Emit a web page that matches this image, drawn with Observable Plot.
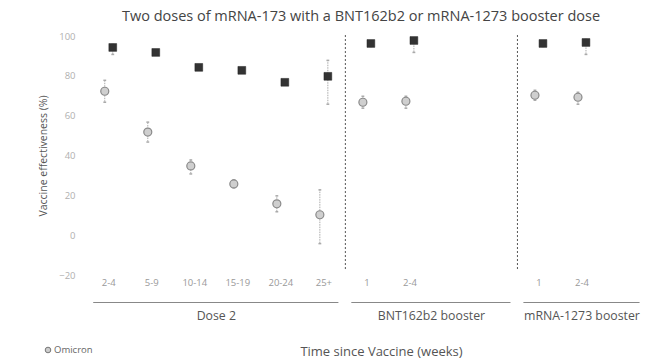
<!DOCTYPE html>
<html><head><meta charset="utf-8">
<script src="https://cdn.jsdelivr.net/npm/d3@7"></script>
<script src="https://cdn.jsdelivr.net/npm/@observablehq/plot@0.6"></script>
<style>
body{margin:0;background:#fff;font-family:"Open Sans",Lato,sans-serif;}
#wrap{position:relative;width:663px;height:364px;overflow:hidden;}
#title{height:26px;line-height:32px;font-size:14.5px;color:#444;text-align:center;padding-left:59px;white-space:nowrap;}
#legend{position:absolute;left:44px;top:343px;font-size:9.5px;color:#666;display:flex;align-items:center;gap:2px;}
</style></head>
<body><div id="wrap"><div id="title">Two doses of mRNA-173 with a BNT162b2 or mRNA-1273 booster dose</div><div id="chart"></div>
<div id="legend"><svg width="8" height="8"><circle cx="4" cy="4" r="2.8" fill="#ccc" stroke="#777"/></svg><span>Omicron</span></div></div>
<script>
// ---- data ----
const groups = ["Dose 2", "BNT162b2 booster", "mRNA-1273 booster"];
const weeks = ["2-4","5-9","10-14","15-19","20-24","25+","1","2-4","1","2-4"];
const weekGroup = ["Dose 2","Dose 2","Dose 2","Dose 2","Dose 2","Dose 2","BNT162b2 booster","BNT162b2 booster","mRNA-1273 booster","mRNA-1273 booster"];
const omicronVE   = [72.5, 52, 35, 26, 16, 10.5, 67, 67.5, 70.5, 69.5];
const omicronLow  = [67, 47, 31, 24, 12, -4, 64, 64, 68, 66];
const omicronHigh = [78, 57, 38, 28, 20, 23, 70, 70, 73, 72];
const squareVE    = [94.5, 92, 84.5, 83, 77, 80, 96.5, 98, 96.5, 97];
const squareLow   = [91, 91, 84, 82.5, 76.5, 66, 95, 92, 95, 91];
const squareHigh  = [96, 93, 85, 84, 77.5, 88, 97.5, 99, 97.5, 98.5];
const yTicks = [-20, 0, 20, 40, 60, 80, 100];

// ---- layout (slots per panel) ----
const groupSlots = {"Dose 2": 6, "BNT162b2 booster": 4, "mRNA-1273 booster": 3};
const groupStart = {}; let acc = 0;
groups.forEach(g => { groupStart[g] = acc; acc += groupSlots[g]; });
const rows = weeks.map((w, i) => {
  const g = weekGroup[i];
  const k = weekGroup.slice(0, i).filter(x => x === g).length;
  return {week: w, group: g, pos: groupStart[g] + k,
    om: omicronVE[i], omLo: omicronLow[i], omHi: omicronHigh[i],
    sq: squareVE[i], sqLo: squareLow[i], sqHi: squareHigh[i]};
});
const panels = groups.map(g => ({name: g, a: groupStart[g] - 0.5, b: groupStart[g] + groupSlots[g] - 0.5}));
const dividers = panels.slice(0, -1).map(p => p.b);
const cap = {draw(ctx, size){const w = Math.sqrt(size) / 2; ctx.moveTo(-w, 0); ctx.lineTo(w, 0);}};

const font = "'Open Sans', Lato, sans-serif";
const chart = Plot.plot({
  width: 663, height: 338,
  marginTop: 10, marginBottom: 89, marginLeft: 76, marginRight: 17,
  x: {domain: [-0.75, acc - 0.5], axis: null},
  y: {domain: [-20, 100], axis: null},
  style: {fontFamily: font, overflow: "visible", background: "#fff"},
  marks: [
    Plot.axisY({ticks: yTicks, tickSize: 0, tickPadding: 1, fontSize: 9.5, fill: "#b0b0b0", label: null}),
    Plot.text(["Vaccine effectiveness (%)"], {frameAnchor: "left", textAnchor: "middle", dx: -33, rotate: -90, fontSize: 10.5, fill: "#555"}),
    Plot.ruleX(dividers, {x: d => d, y1: -17, y2: 101, stroke: "#555", strokeDasharray: "2,2"}),
    // error bars
    Plot.ruleX(rows, {x: "pos", y1: "omLo", y2: "omHi", dx: -4, stroke: "#aaa", strokeDasharray: "1.5,1"}),
    Plot.ruleX(rows, {x: "pos", y1: "sqLo", y2: "sqHi", dx: 4, stroke: "#aaa", strokeDasharray: "1.5,1"}),
    Plot.dot(rows, {x: "pos", y: "omLo", dx: -4, symbol: cap, r: 1.6, stroke: "#aaa"}),
    Plot.dot(rows, {x: "pos", y: "omHi", dx: -4, symbol: cap, r: 1.6, stroke: "#aaa"}),
    Plot.dot(rows, {x: "pos", y: "sqLo", dx: 4, symbol: cap, r: 1.6, stroke: "#aaa"}),
    Plot.dot(rows, {x: "pos", y: "sqHi", dx: 4, symbol: cap, r: 1.6, stroke: "#aaa"}),
    // points
    Plot.dot(rows, {x: "pos", y: "sq", dx: 4, symbol: "square", r: 4.4, fill: "#333", stroke: "#222", strokeWidth: 0.5}),
    Plot.dot(rows, {x: "pos", y: "om", dx: -4, r: 4, fill: "#cfcfcf", stroke: "#8a8a8a", strokeWidth: 1.2}),
    // x tick labels
    Plot.text(rows, {x: "pos", text: "week", frameAnchor: "bottom", dy: 10, fontSize: 9.5, fill: "#999"}),
    // panel underlines + labels
    Plot.ruleY(panels, {x1: d => d.a + 0.15, x2: d => d.b - 0.15, y: () => -20, dy: 27, stroke: "#888", strokeWidth: 1}),
    Plot.text(panels, {x: d => (d.a + d.b) / 2, text: "name", frameAnchor: "bottom", dy: 44, fontSize: 12.3, fill: "#555"}),
    Plot.text(["Time since Vaccine (weeks)"], {frameAnchor: "bottom", dx: 20, dy: 80, fontSize: 13, fill: "#555"})
  ]
});
document.getElementById("chart").appendChild(chart);
</script></body></html>
